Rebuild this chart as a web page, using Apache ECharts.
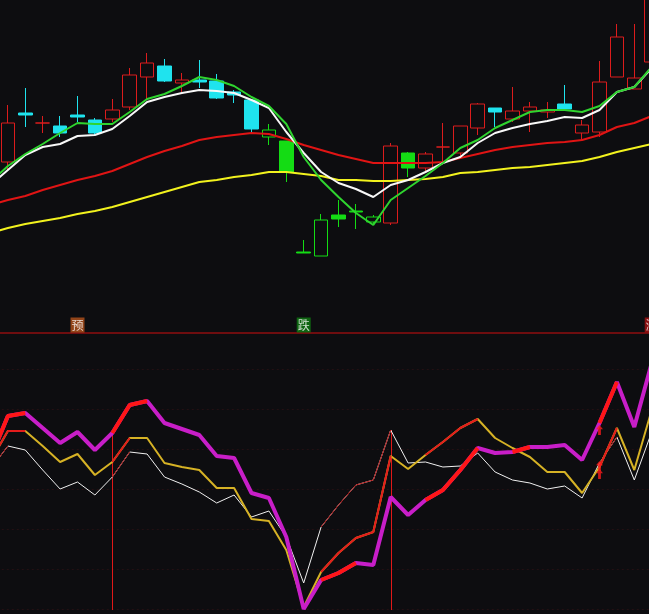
<!DOCTYPE html>
<html><head><meta charset="utf-8">
<script src="https://cdn.jsdelivr.net/npm/echarts@6/dist/echarts.min.js"></script>
<style>html,body{margin:0;padding:0;background:#0d0d10;overflow:hidden;width:649px;height:614px;}
#c{position:absolute;left:-20px;top:0;width:690px;height:660px;}</style>
</head><body><div id="c"></div>
<script>
// ---- data ----
const categories = ['D00','D01','D02','D03','D04','D05','D06','D07','D08','D09','D10','D11','D12','D13','D14','D15','D16','D17','D18','D19','D20','D21','D22','D23','D24','D25','D26','D27','D28','D29','D30','D31','D32','D33','D34','D35','D36','D37','D38'];
// [open, close, low, high]
const candles = [
  null,
  [11.38,11.77,11.30,11.95],[11.87,11.85,11.73,12.12],[11.77,11.77,11.67,11.84],[11.74,11.67,11.63,11.84],
  [11.85,11.83,11.78,12.04],[11.80,11.67,11.65,11.82],[11.81,11.90,11.78,12.01],[11.93,12.25,11.90,12.32],
  [12.23,12.37,12.01,12.47],[12.34,12.19,12.18,12.41],[12.17,12.20,12.08,12.27],[12.20,12.18,12.12,12.40],
  [12.19,12.02,12.01,12.26],[12.08,12.05,11.97,12.10],[12.00,11.71,11.67,12.01],[11.63,11.70,11.55,11.76],
  [11.59,11.28,11.18,11.59],[10.48,10.47,10.47,10.60],[10.44,10.80,10.44,10.86],[10.85,10.81,10.73,11.00],
  [10.89,10.88,10.71,10.96],[10.78,10.83,10.76,10.85],[10.77,11.54,10.75,11.57],[11.47,11.32,11.23,11.48],
  [11.32,11.46,11.27,11.48],[11.53,11.53,11.37,11.77],[11.47,11.74,11.43,11.74],[11.72,11.96,11.65,11.97],
  [11.92,11.88,11.73,11.92],[11.81,11.89,11.78,12.13],[11.89,11.93,11.68,11.98],[11.88,11.90,11.82,11.98],
  [11.96,11.91,11.90,12.15],[11.67,11.75,11.59,11.80],[11.68,12.18,11.63,12.39],[12.23,12.63,12.23,12.76],
  [12.11,12.22,12.11,12.76],[12.38,13.10,12.38,13.30]
];
// 1 = weak-trend state (candles drawn green)
const regime = [0,0,0,0,0,0,0,0,0,0,0,0,0,0,0,0,1,1,1,1,1,1,1,0,1,0,0,0,0,0,0,0,0,0,0,0,0,0,0];
const ma5  = [11.18,11.34,11.46,11.56,11.67,11.77,11.76,11.76,11.88,12.01,12.06,12.14,12.23,12.20,12.14,12.03,11.94,11.76,11.43,11.20,11.03,10.87,10.75,11.00,11.12,11.24,11.37,11.52,11.60,11.72,11.80,11.88,11.90,11.90,11.88,11.94,12.08,12.13,12.33];
const ma10 = [11.15,11.30,11.45,11.53,11.56,11.64,11.65,11.71,11.84,11.98,12.03,12.07,12.10,12.09,12.07,12.00,11.92,11.68,11.47,11.28,11.17,11.11,11.03,11.15,11.20,11.28,11.37,11.43,11.57,11.67,11.72,11.76,11.79,11.83,11.82,11.90,12.08,12.13,12.32];
const ma20 = [10.95,11.00,11.04,11.10,11.15,11.20,11.24,11.29,11.36,11.43,11.49,11.54,11.60,11.63,11.65,11.67,11.66,11.61,11.55,11.50,11.45,11.41,11.37,11.37,11.37,11.37,11.38,11.42,11.46,11.50,11.53,11.55,11.57,11.58,11.60,11.65,11.73,11.77,11.84];
const ma60 = [10.67,10.72,10.76,10.79,10.82,10.86,10.89,10.93,10.98,11.03,11.08,11.13,11.18,11.20,11.23,11.25,11.28,11.28,11.26,11.24,11.20,11.20,11.19,11.19,11.20,11.21,11.23,11.27,11.28,11.30,11.32,11.33,11.35,11.37,11.39,11.43,11.48,11.52,11.56];
const signalIdx  = [5, 18, 38];
const signalText = ['预', '跌', '涨'];
const signalLevel = 9.75;
// lower indicator
const indThick = [151,193,196,181,166,177,159,176,204,208,186,180,174,153,151,116,111,72,0,29,36,46,44,112,94,109,119,139,161,156,157,162,162,164,149,186,227,182,246];
const indMid   = [148,178,178,163,147,155,134,147,171,171,146,142,139,121,121,90,88,59,2,37,56,71,77,153,140,154,167,181,190,171,161,152,137,137,116,142,181,139,199];
const indThin  = [140,163,159,139,120,127,114,132,157,155,132,125,117,106,114,92,98,72,26,82,104,124,129,179,146,147,142,143,156,137,129,126,120,123,111,146,172,129,177];
const thickUp = [1,1,1,0,0,0,0,1,1,1,0,0,0,0,0,0,0,0,0,1,1,1,0,0,0,1,1,1,1,0,1,1,0,0,0,1,1,0,0];
const midUp   = [1,1,1,0,0,0,0,1,1,0,0,0,0,0,0,0,0,0,0,1,1,1,1,1,0,1,1,1,1,0,0,0,0,0,0,1,1,0,0];
const thinUp  = [1,1,0,0,0,0,0,1,1,0,0,0,0,0,0,0,0,0,0,1,1,1,1,1,0,0,0,0,0,0,0,0,0,0,0,1,1,0,0];
const vlineIdx = [7, 23];
const vlineBase = -1;
const arrowIdx = 35;
const arrowVals = [179, 143, 135];

// ---- styles ----
const BG = '#0d0d10', RED = '#dc1c1c', CYAN = '#1fe3ee', GREEN = '#14dc14';
const chart = echarts.init(document.getElementById('c'), null, {renderer: 'canvas'});

const candleData = candles.map((d, i) => {
  if (!d) return '-';
  const up = d[1] >= d[0];
  const col = regime[i] ? GREEN : (up ? RED : CYAN);
  const fill = up ? BG : col;
  return {value: d, itemStyle: {color: fill, color0: fill, borderColor: col, borderColor0: col, borderWidth: 1}};
});
const masked = (arr, flags) => arr.map((v, i) => flags[i] ? v : '-');

const sigColors = {'预': '#b4521c', '跌': '#0f7a12', '涨': '#a81212'};
const signalData = signalIdx.map((ix, k) => ({
  value: [categories[ix], signalLevel],
  itemStyle: {color: sigColors[signalText[k]]},
  label: {show: true, formatter: signalText[k]}
}));

const vlineData = vlineIdx.map(ix => [ix, Math.max(indThick[ix], indMid[ix], indThin[ix]), vlineBase]);

const gridLeft = 1.8, gridWidth = 678.6;
const lineS = (name, data, color, width, xi, z) => ({
  name, type: 'line', data, xAxisIndex: xi, yAxisIndex: xi, symbol: 'none', silent: true,
  lineStyle: {color, width}, itemStyle: {color}, z: z || 3, connectNulls: false
});

chart.setOption({
  backgroundColor: BG,
  animation: false,
  grid: [
    {left: gridLeft, width: gridWidth, top: 0, height: 333},
    {left: gridLeft, width: gridWidth, top: 335, height: 314}
  ],
  xAxis: [
    {type: 'category', data: categories, gridIndex: 0, boundaryGap: true,
     axisLine: {show: true, lineStyle: {color: '#6e0d0f', width: 2}}, axisTick: {show: false}, axisLabel: {show: false}, splitLine: {show: false}},
    {type: 'category', data: categories, gridIndex: 1, boundaryGap: true, show: false}
  ],
  yAxis: [
    {type: 'value', gridIndex: 0, min: 9.67, max: 13.0, scale: true,
     axisLine: {show: false}, axisTick: {show: false}, axisLabel: {show: false}, splitLine: {show: false}},
    {type: 'value', gridIndex: 1, min: -40, max: 274, interval: 40,
     axisLine: {show: false}, axisTick: {show: false}, axisLabel: {show: false},
     splitLine: {show: true, showMinLine: false, showMaxLine: false, lineStyle: {color: '#241013', type: [2, 3], width: 1}}}
  ],
  series: [
    {type: 'candlestick', data: candleData, xAxisIndex: 0, yAxisIndex: 0, barWidth: 14, z: 2, silent: true, clip: true},
    lineS('MA60', ma60, '#f2f21e', 2, 0),
    lineS('MA20', ma20, '#e01414', 2, 0),
    lineS('MA10', ma10, '#f8f8f8', 2, 0),
    lineS('MA5', ma5, '#2fd42f', 2, 0),
    {type: 'scatter', data: signalData, xAxisIndex: 0, yAxisIndex: 0, symbol: 'rect', symbolSize: [14, 15], z: 5, silent: true,
     label: {position: 'inside', color: '#ffffff', fontSize: 12, fontFamily: 'Noto Sans CJK SC'}},
    // lower panel
    {type: 'custom', xAxisIndex: 1, yAxisIndex: 1, z: 2, silent: true, data: vlineData,
     renderItem: (params, api) => {
       const p1 = api.coord([api.value(0), api.value(1)]);
       const p2 = api.coord([api.value(0), api.value(2)]);
       const x = Math.round(p1[0]) + 0.5;
       return {type: 'line', shape: {x1: x, y1: p1[1], x2: x, y2: p2[1]}, style: {stroke: '#e01818', lineWidth: 1}};
     }},
    lineS('thin', indThin, '#f0f0f0', 1, 1, 3),
    lineS('thinUp', masked(indThin, thinUp), '#b01414', 1, 1, 4),
    lineS('mid', indMid, '#d6b225', 2, 1, 5),
    lineS('midUp', masked(indMid, midUp), '#e41c1c', 2, 1, 6),
    lineS('thick', indThick, '#c81ec8', 4, 1, 7),
    lineS('thickUp', masked(indThick, thickUp), '#ff1616', 4, 1, 8),
    {type: 'scatter', xAxisIndex: 1, yAxisIndex: 1, z: 9, silent: true,
     data: arrowVals.map(v => [categories[arrowIdx], v]),
     symbol: 'path://M5,0 L10,5 L7,5 L7,12 L3,12 L3,5 L0,5 Z', symbolSize: [7, 10],
     itemStyle: {color: '#ff1a1a'}}
  ]
});
</script></body></html>
